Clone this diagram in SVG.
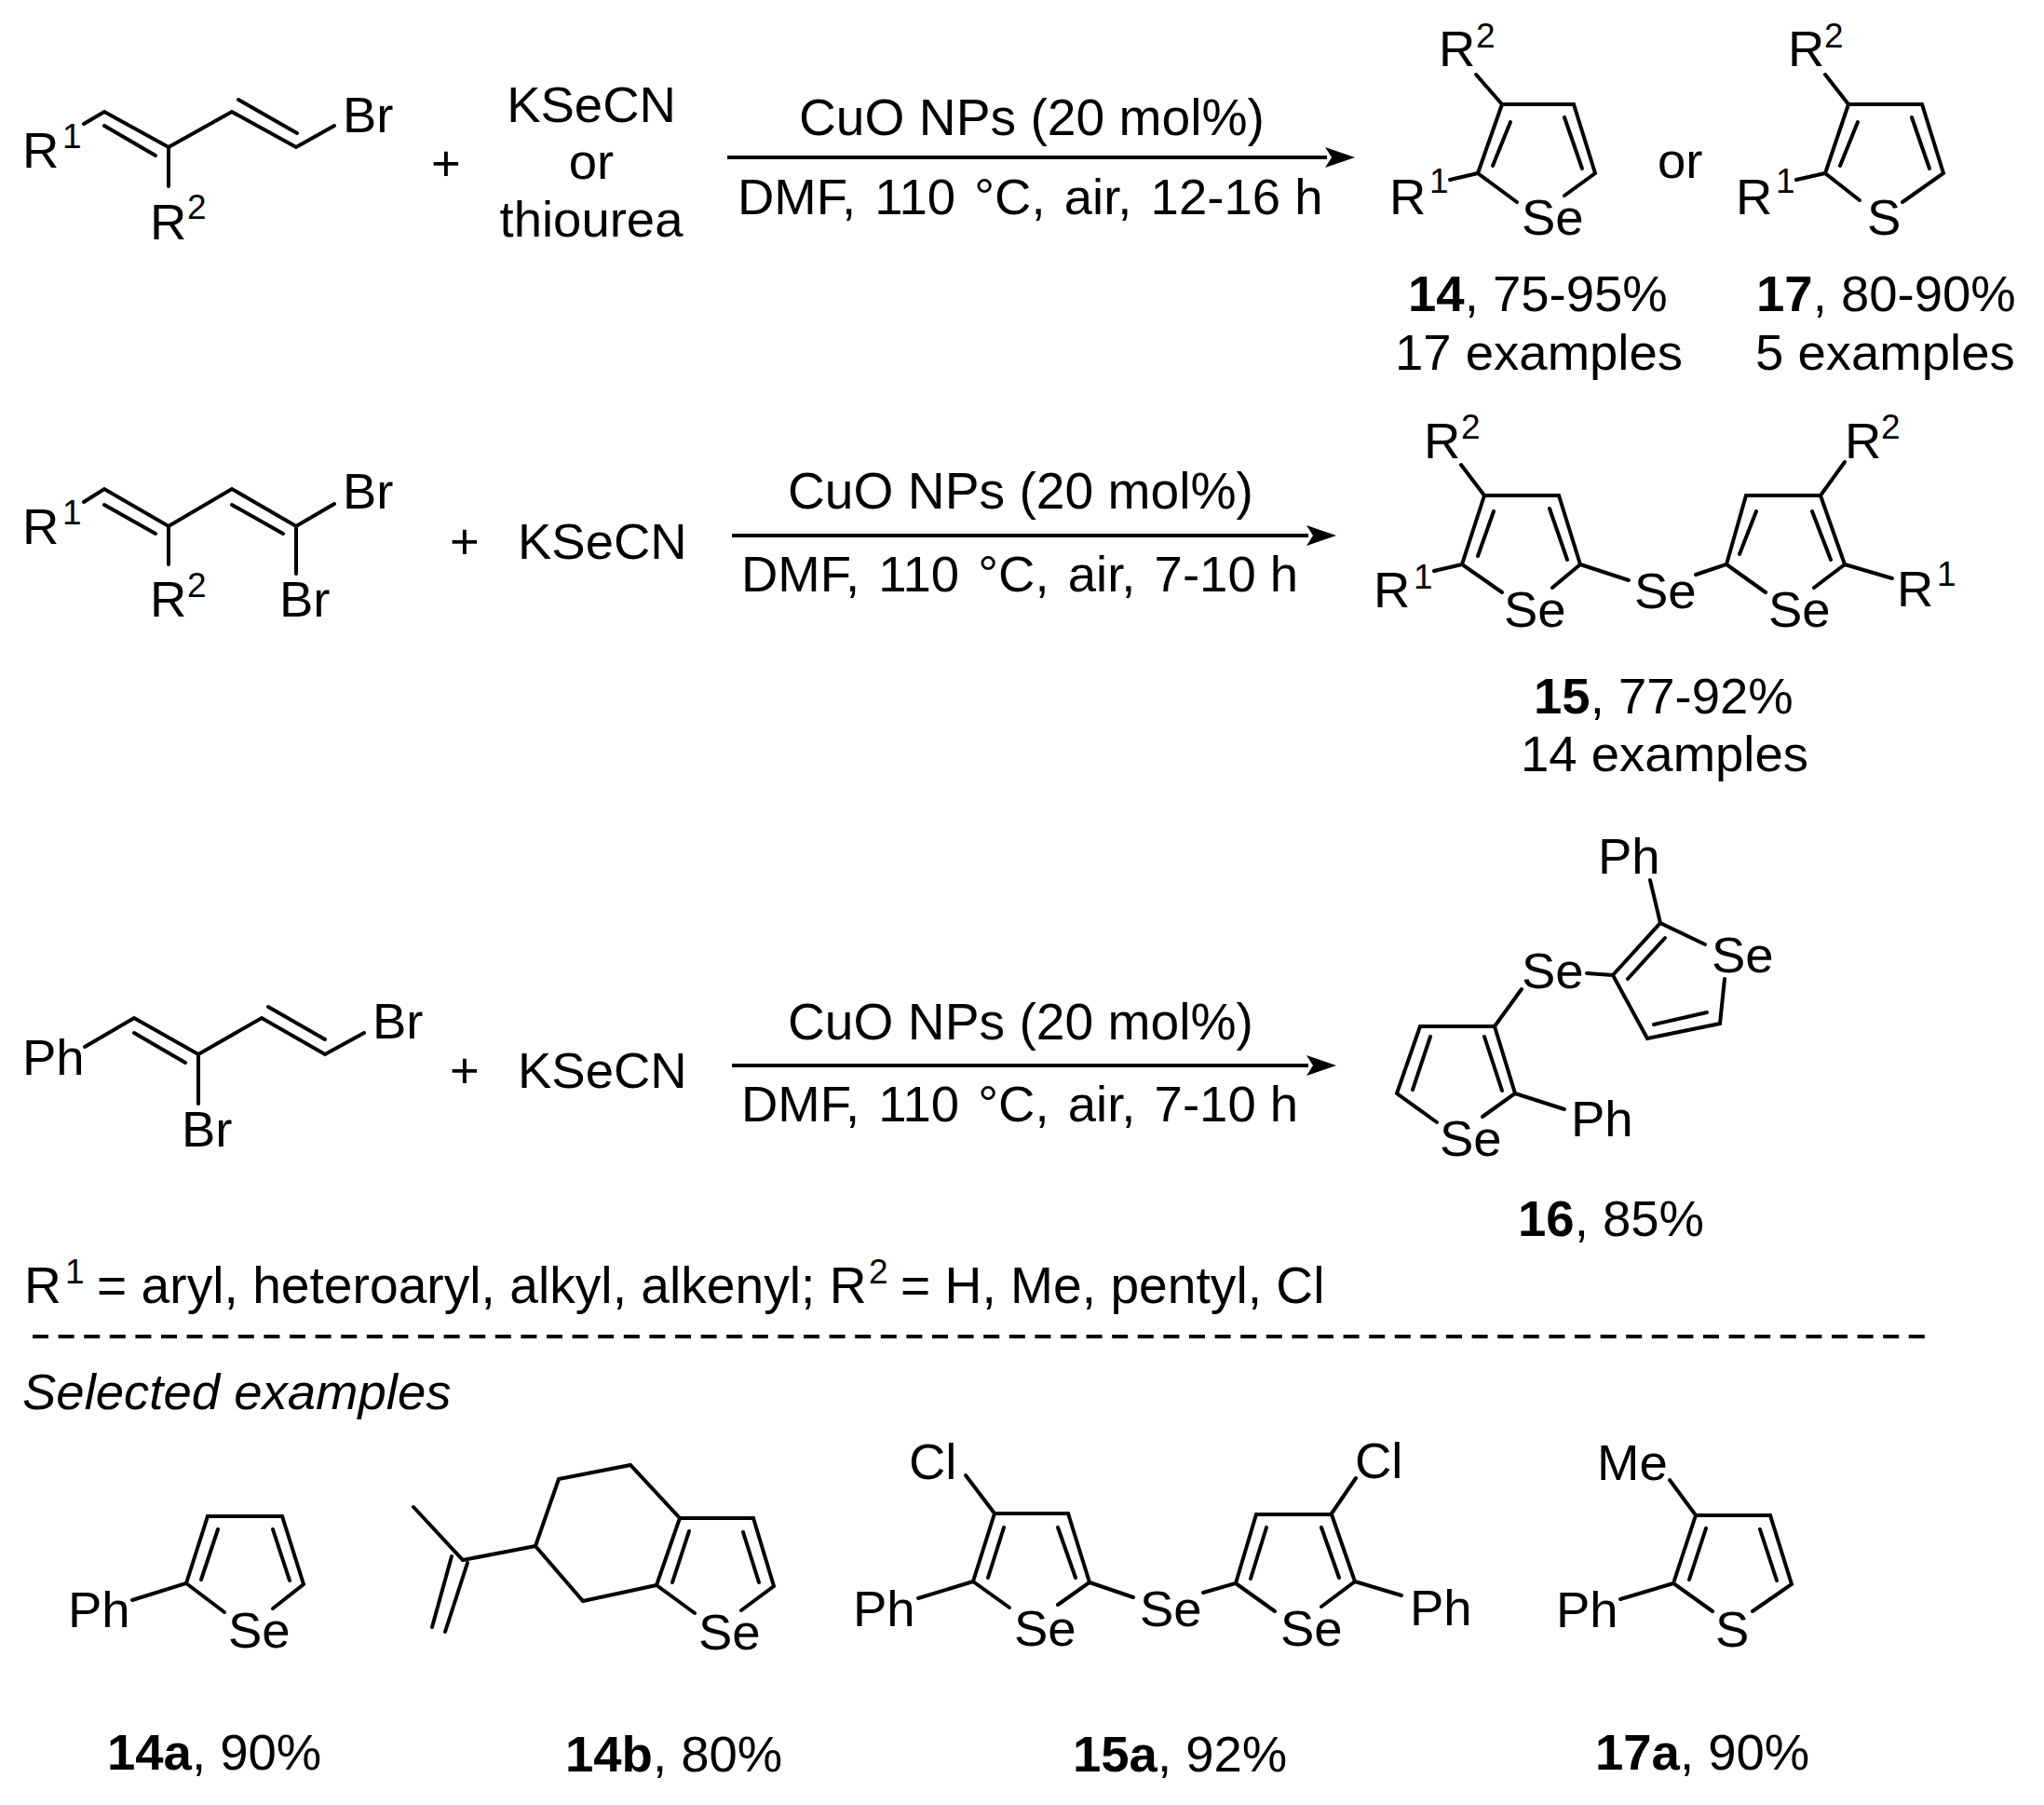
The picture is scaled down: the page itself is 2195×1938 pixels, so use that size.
<svg xmlns="http://www.w3.org/2000/svg" width="2195" height="1938" viewBox="0 0 2195 1938">
<style>
text{font-family:"Liberation Sans",Arial,sans-serif;font-size:54.5px;fill:#000}
.s{font-size:37px}
.b{font-weight:700}
.i{font-style:italic}
.w{word-spacing:5px}
.n{word-spacing:0}
.l{font-size:55.2px}
.c{font-size:55.2px}
.bond{fill:none;stroke:#000;stroke-width:4;stroke-linecap:round;stroke-linejoin:miter}
.arrow{fill:none;stroke:#000;stroke-width:4;marker-end:url(#head)}
.dash{fill:none;stroke:#000;stroke-width:4;stroke-dasharray:17 10.6}
</style>
<defs>
<marker id="head" markerUnits="userSpaceOnUse" markerWidth="34" markerHeight="26" refX="2" refY="13" orient="auto" overflow="visible"><path d="M0 2 L32 13 L0 24 L7 13 Z" fill="#000"/></marker>
</defs>
<rect width="2195" height="1938" fill="#fff"/>
<g id="connectors">
<path class="arrow" d="M781 169H1425"/>
<path class="arrow" d="M786 575H1405"/>
<path class="arrow" d="M786 1144H1405"/>
<path class="dash" d="M35 1435H2071"/>
</g>
<g id="reactant-1">
<path class="bond" d="M90 133L112 120L181 158L249 120L318 158L359 135M112 135L167 167M256 107L319 143M181 158V200"/>
<text x="24" y="180">R</text><text class="s" x="67" y="159">1</text>
<text x="368" y="142">Br</text>
<text x="161" y="257">R</text><text class="s" x="201" y="235">2</text>
</g>
<text id="plus-1" x="463" y="194">+</text>
<g id="reagent-1">
<text x="635" y="131" text-anchor="middle">KSeCN</text>
<text x="635" y="192" text-anchor="middle">or</text>
<text x="635" y="254" text-anchor="middle">thiourea</text>
</g>
<g id="conditions-1">
<text class="c" x="858" y="145">CuO NPs (20 mol%)</text>
<text class="w" x="792" y="230">DMF, 110 °C, air, <tspan class="n">12-16 h</tspan></text>
</g>
<g id="product-14">
<path class="bond" d="M1585 80L1613 112H1690L1713 186L1680 210M1629 217L1587 186L1613 112M1587 186L1557 193M1603 178L1622 131M1680 126L1699 181"/>
<text x="1545" y="71">R</text><text class="s" x="1585" y="51">2</text>
<text x="1492" y="230">R</text><text class="s" x="1535" y="207">1</text>
<text x="1634" y="252">Se</text>
<text x="1512" y="334"><tspan class="b">14</tspan>, 75-95%</text>
<text x="1498" y="397">17 examples</text>
</g>
<text id="or-label" x="1780" y="191">or</text>
<g id="product-17">
<path class="bond" d="M1960 80L1985 112H2064L2087 186L2043 217M1997 215L1960 186L1985 112M1960 186L1929 193M1976 178L1995 131M2053 126L2072 181"/>
<text x="1920" y="71">R</text><text class="s" x="1959" y="51">2</text>
<text x="1864" y="230">R</text><text class="s" x="1907" y="207">1</text>
<text x="2005" y="252">S</text>
<text x="1886" y="334"><tspan class="b">17</tspan>, 80-90%</text>
<text x="1885" y="397">5 examples</text>
</g>
<g id="reactant-2">
<path class="bond" d="M90 539L112 525L181 565L249 525L318 565L359 541M112 542L167 573M249 542L304 573M181 565V606M318 565V616"/>
<text x="24" y="584">R</text><text class="s" x="67" y="563">1</text>
<text x="368" y="546">Br</text>
<text x="161" y="662">R</text><text class="s" x="201" y="641">2</text>
<text x="300" y="662">Br</text>
</g>
<text id="plus-2" x="483" y="600">+</text>
<text id="reagent-2" x="556" y="600">KSeCN</text>
<g id="conditions-2">
<text class="c" x="846" y="546">CuO NPs (20 mol%)</text>
<text class="w" x="796" y="635">DMF, 110 °C, air, <tspan class="n">7-10 h</tspan></text>
</g>
<g id="product-15">
<path class="bond" d="M1569 499L1594 532H1674L1697 606L1667 631M1613 636L1570 606L1594 532M1570 606L1540 613M1587 597L1604 549M1664 546L1683 601M1697 606L1749 623M1821 617L1854 606L1875 532H1955L1981 606L1948 631M1896 636L1854 606M1981 606L2032 621M1955 532L1981 496M1868 595L1886 549M1946 549L1966 601"/>
<text x="1529" y="492">R</text><text class="s" x="1569" y="471">2</text>
<text x="1475" y="652">R</text><text class="s" x="1518" y="632">1</text>
<text x="1615" y="673">Se</text>
<text x="1755" y="653">Se</text>
<text x="1899" y="673">Se</text>
<text x="1981" y="492">R</text><text class="s" x="2020" y="471">2</text>
<text x="2037" y="651">R</text><text class="s" x="2080" y="629">1</text>
<text x="1647" y="766"><tspan class="b">15</tspan>, 77-92%</text>
<text x="1633" y="828">14 examples</text>
</g>
<g id="reactant-3">
<path class="bond" d="M91 1124L144 1093L213 1132L281 1093L349 1132L391 1109M144 1109L199 1141M288 1081L349 1116M213 1132V1185"/>
<text x="24" y="1154">Ph</text>
<text x="400" y="1115">Br</text>
<text x="195" y="1231">Br</text>
</g>
<text id="plus-3" x="483" y="1168">+</text>
<text id="reagent-3" x="556" y="1168">KSeCN</text>
<g id="conditions-3">
<text class="c" x="846" y="1116">CuO NPs (20 mol%)</text>
<text class="w" x="796" y="1204">DMF, 110 °C, air, <tspan class="n">7-10 h</tspan></text>
</g>
<g id="product-16">
<path class="bond" d="M1772 945L1783 991L1831 1014M1783 991L1732 1047L1769 1115L1847 1099L1852 1051M1788 1007L1748 1051M1776 1100L1833 1087M1704 1045L1732 1047M1634 1062L1605 1102H1525L1500 1174L1543 1205M1605 1102L1627 1174L1592 1199M1594 1113L1613 1171M1536 1113L1517 1170M1627 1174L1680 1191"/>
<text x="1716" y="938">Ph</text>
<text x="1838" y="1044">Se</text>
<text x="1634" y="1061">Se</text>
<text x="1687" y="1220">Ph</text>
<text x="1546" y="1241">Se</text>
<text x="1630" y="1327"><tspan class="b">16</tspan>, 85%</text>
</g>
<g id="legend">
<text class="l" x="26" y="1399">R</text><text class="s" x="70" y="1378">1</text>
<text class="l" x="104" y="1399">= aryl, heteroaryl, alkyl, alkenyl; R</text><text class="s" x="933" y="1378">2</text>
<text class="l" x="967" y="1399">= H, Me, pentyl, Cl</text>
</g>
<text id="section-title" class="i" x="24" y="1513">Selected examples</text>
<g id="example-14a">
<path class="bond" d="M142 1718L200 1700L223 1628H303L326 1701L293 1727M241 1731L200 1700M234 1642L216 1696M293 1642L311 1697"/>
<text x="73" y="1747">Ph</text>
<text x="245" y="1769">Se</text>
<text x="115" y="1900"><tspan class="b">14a</tspan>, 90%</text>
</g>
<g id="example-14b">
<path class="bond" d="M444 1618L497 1675L575 1660L600 1588L677 1573L730 1630L705 1702L626 1719L575 1660M730 1630H809L831 1703L796 1729M746 1732L705 1702M485 1671L464 1747M502 1678L478 1752M740 1644L722 1699M798 1645L815 1699"/>
<text x="750" y="1771">Se</text>
<text x="607" y="1902"><tspan class="b">14b</tspan>, 80%</text>
</g>
<g id="example-15a">
<path class="bond" d="M1037 1584L1068 1625H1147L1170 1699L1136 1723M1084 1726L1045 1698L1068 1625M1078 1640L1061 1694M1136 1640L1155 1694M1045 1698L986 1716M1170 1699L1217 1715M1292 1710L1327 1700L1349 1626H1430L1455 1698L1419 1725M1369 1730L1327 1700M1343 1695L1360 1640M1419 1640L1438 1694M1430 1625L1456 1587M1455 1698L1505 1713"/>
<text x="976" y="1588">Cl</text>
<text x="916" y="1746">Ph</text>
<text x="1089" y="1767">Se</text>
<text x="1224" y="1746">Se</text>
<text x="1375" y="1767">Se</text>
<text x="1455" y="1587">Cl</text>
<text x="1514" y="1745">Ph</text>
<text x="1152" y="1902"><tspan class="b">15a</tspan>, 92%</text>
</g>
<g id="example-17a">
<path class="bond" d="M1793 1589L1821 1627H1901L1924 1701L1882 1730M1839 1730L1797 1700L1821 1627M1797 1700L1740 1717M1832 1641L1814 1696M1890 1642L1908 1697"/>
<text x="1715" y="1589">Me</text>
<text x="1671" y="1747">Ph</text>
<text x="1842" y="1768">S</text>
<text x="1713" y="1900"><tspan class="b">17a</tspan>, 90%</text>
</g>
</svg>
